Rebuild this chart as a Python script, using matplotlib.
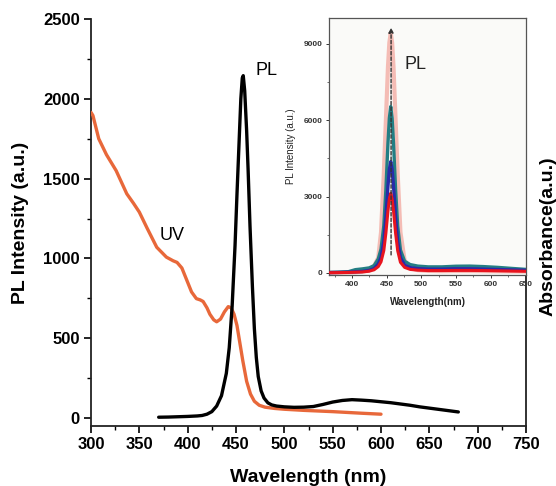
import matplotlib
matplotlib.use("Agg")
import matplotlib.pyplot as plt
from matplotlib.ticker import MultipleLocator

plt.rcParams['font.family'] = ['Liberation Sans', 'DejaVu Sans']

# ---- main panel: PL emission and UV absorption ----
pl_wl = [370, 380, 390, 400, 410, 415, 420, 425, 430, 435, 440, 443, 446, 449,
         451, 453, 455, 456.5, 457.5, 459, 461, 462.5, 464.5, 467, 469, 471,
         473, 476, 479, 483, 487, 492, 500, 510, 520, 530, 540, 550, 560, 570,
         580, 590, 600, 610, 620, 630, 640, 650, 660, 670, 680]
pl_int = [5, 6, 8, 10, 13, 16, 24, 40, 75, 140, 280, 440, 700, 1080,
          1400, 1700, 2000, 2130, 2145, 2050, 1800, 1560, 1200, 820, 560, 380,
          260, 170, 125, 95, 82, 75, 70, 67, 68, 72, 85, 100, 110, 115,
          112, 108, 102, 96, 88, 80, 70, 62, 54, 46, 38]

uv_wl = [300, 302, 308, 316, 326, 337, 344, 350, 358, 368, 378, 385, 389, 394,
         399, 404, 409, 413, 416, 420, 423, 427, 430, 434, 438, 442, 445, 448,
         451, 454, 457, 461, 465, 469, 474, 480, 490, 500, 520, 550, 580, 600]
uv_abs = [1915, 1895, 1750, 1650, 1550, 1405, 1345, 1290, 1190, 1070, 1008, 985, 975, 940,
          865, 790, 748, 740, 730, 690, 650, 615, 603, 620, 665, 698, 690, 650,
          580, 470, 360, 230, 150, 105, 80, 68, 60, 55, 48, 40, 30, 24]

main_xticks = [300, 350, 400, 450, 500, 550, 600, 650, 700, 750]
main_yticks = [0, 500, 1000, 1500, 2000, 2500]

# ---- inset: PL spectra series ----
in_wl = [367, 380, 395, 405, 415, 425, 432, 438, 442, 446, 449, 452, 454, 456,
         458, 460, 463, 466, 470, 476, 484, 495, 510, 530, 550, 570, 590, 610,
         630, 651]
in_pink = [5, 10, 20, 30, 50, 100, 280, 600, 1600, 3900, 6000, 8100, 9050, 9430,
           9050, 8100, 6000, 3900, 1600, 500, 200, 110, 80, 70, 75, 75, 70, 65,
           60, 55]
in_teal = [20, 30, 50, 130, 160, 200, 290, 550, 940, 1850, 3270, 5100, 6080, 6540,
           6080, 5100, 3270, 1850, 900, 460, 330, 270, 240, 240, 265, 270, 250, 220,
           180, 140]
in_blue = [15, 20, 30, 45, 60, 100, 175, 350, 610, 1230, 2190, 3410, 4070, 4375,
           4070, 3410, 2190, 1230, 600, 310, 210, 170, 150, 150, 165, 165, 150, 135,
           120, 105]
in_red = [10, 15, 20, 30, 40, 70, 125, 250, 440, 880, 1565, 2440, 2910, 3130,
          2910, 2440, 1565, 880, 420, 220, 140, 110, 95, 95, 100, 100, 95, 85,
          75, 65]
in_xticks = [400, 450, 500, 550, 600, 650]
in_yticks = [0, 3000, 6000, 9000]
arrow_wl = 456.5
arrow_from, arrow_to = 600, 9750

fig = plt.figure(figsize=(5.56, 4.86), dpi=100)
fig.patch.set_facecolor('white')

ax = fig.add_axes([91 / 556, 1 - 426 / 486, 435 / 556, 407 / 486])
ax.plot(uv_wl, uv_abs, color='#e8683a', lw=2.4, solid_capstyle='round', zorder=3)
ax.plot(pl_wl, pl_int, color='black', lw=2.4, solid_capstyle='round', zorder=4)
ax.set_xlim(300, 750)
ax.set_ylim(-50, 2500)
ax.set_xticks(main_xticks)
ax.set_yticks(main_yticks)
ax.xaxis.set_minor_locator(MultipleLocator(25))
ax.yaxis.set_minor_locator(MultipleLocator(250))
ax.spines['top'].set_visible(False)
for s in ('left', 'bottom', 'right'):
    ax.spines[s].set_linewidth(1.3)
    ax.spines[s].set_color('#222222')
ax.tick_params(which='major', direction='out', length=5, width=1.2,
               labelsize=12, pad=3, right=False)
ax.tick_params(which='minor', direction='out', length=3, width=1.0, right=False)
for lab in ax.get_xticklabels() + ax.get_yticklabels():
    lab.set_fontweight('bold')
ax.set_xlabel('Wavelength (nm)', fontsize=14, fontweight='bold', labelpad=12)
ax.set_ylabel('PL Intensity (a.u.)', fontsize=14, fontweight='bold', labelpad=10)
ax.text(384, 1145, 'UV', fontsize=13, ha='center', va='center', zorder=5)
ax.text(470, 2175, 'PL', fontsize=13, ha='left', va='center', zorder=5)
fig.text(548 / 556, 1 - 236 / 486, 'Absorbance(a.u.)', rotation=90, fontsize=14,
         fontweight='bold', ha='center', va='center')

# inset
ins = fig.add_axes([329 / 556, 1 - 275 / 486, 197 / 556, 257 / 486])
ins.set_facecolor('#fafaf8')
ins.plot(in_wl, in_pink, color='#f3a89f', lw=3.0, alpha=0.75, zorder=2)
ins.plot(in_wl, in_teal, color='#237e84', lw=2.4, zorder=3)
ins.plot(in_wl, in_blue, color='#2a2aa8', lw=2.4, zorder=4)
ins.plot(in_wl, in_red, color='#e8141e', lw=2.2, zorder=5)
ins.annotate('', xy=(arrow_wl, arrow_to), xytext=(arrow_wl, arrow_from),
             arrowprops=dict(arrowstyle='-|>', color='#333333', lw=1.0,
                             linestyle=(0, (2.5, 1.5)), mutation_scale=7),
             zorder=6)
ins.set_xlim(367, 651)
ins.set_ylim(-80, 10020)
ins.set_xticks(in_xticks)
ins.set_yticks(in_yticks)
ins.xaxis.set_minor_locator(MultipleLocator(25))
ins.yaxis.set_minor_locator(MultipleLocator(1500))
for s in ins.spines.values():
    s.set_linewidth(0.9)
    s.set_color('#555555')
ins.tick_params(which='major', direction='out', length=2.5, width=0.7,
                labelsize=6, pad=2, colors='#333333')
ins.tick_params(which='minor', direction='out', length=1.5, width=0.6, colors='#555555')
for lab in ins.get_xticklabels() + ins.get_yticklabels():
    lab.set_fontweight('bold')
ins.set_xlabel('Wavelength(nm)', fontsize=7, fontweight='bold', labelpad=6, color='#222222')
ins.set_ylabel('PL Intensity (a.u.)', fontsize=7, labelpad=6, color='#222222')
ins.text(0.44, 0.82, 'PL', transform=ins.transAxes, fontsize=13, ha='center',
         va='center', color='#222222')

fig.savefig('out.png', dpi=100, facecolor='white')
